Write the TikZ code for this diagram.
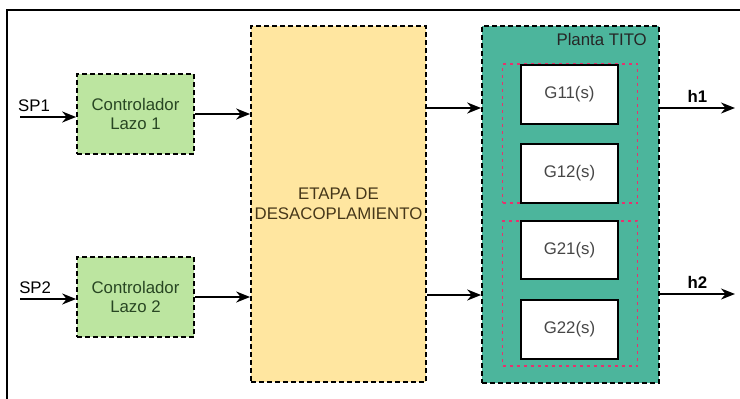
\documentclass[tikz,border=0pt]{standalone}
\usepackage{fontspec}
\setmainfont{Liberation Sans}
\usepackage{xcolor}
\usepackage{tikz}
\usetikzlibrary{arrows.meta, positioning}
\definecolor{ctrlgreen}{RGB}{188,229,160}
\definecolor{stageyellow}{RGB}{255,230,160}
\definecolor{plantteal}{RGB}{76,181,156}
\definecolor{groupred}{RGB}{230,50,110}
\definecolor{ctrltext}{RGB}{40,70,35}
\definecolor{stagetext}{RGB}{70,55,25}
\definecolor{gtext}{RGB}{70,70,70}
\tikzset{
    frame/.style={draw, line width=1.8pt},
    dashbox/.style={rectangle, draw, line width=1.7pt, dash pattern=on 5pt off 3pt, text centered, align=center},
    controller/.style={dashbox, minimum width=117pt, minimum height=80pt, fill=ctrlgreen, text=ctrltext},
    stagebox/.style={dashbox, minimum width=175pt, minimum height=356pt, fill=stageyellow, text=stagetext},
    plant/.style={dashbox, minimum width=177pt, minimum height=357pt, fill=plantteal},
    group/.style={rectangle, draw=groupred, line width=1.6pt, dash pattern=on 3pt off 4pt, minimum width=135pt},
    tf/.style={rectangle, draw, line width=1.6pt, fill=white, text=gtext, minimum width=97pt, minimum height=59pt},
    flow/.style={-{Stealth[length=14pt,width=11pt]}, line width=1.8pt}
}

\begin{document}
\begin{tikzpicture}[x=1pt, y=-1pt, font=\fontsize{16.8}{19.5}\selectfont]
    \useasboundingbox (0,0) rectangle (740,399);

    % Frame
    \draw[frame] (7,410) |- (750,10);

    % Controllers
    \node[controller] (ctrl1) at (135.5,114) {Controlador\\Lazo 1};
    \node[controller] (ctrl2) at (135.5,297) {Controlador\\Lazo 2};

    % Decoupling stage
    \node[stagebox] (etapa) at (338.5,204) {ETAPA DE\\DESACOPLAMIENTO};

    % TITO plant
    \node[plant] (planta) at (570.5,204.5) {};
    \node[anchor=north east, inner sep=0pt, text=black!85] (tito) at (647,33) {Planta TITO};

    % Groups and transfer functions
    \node[group, minimum height=139pt] (grp1) at (570,133.5) {};
    \node[group, minimum height=145pt] (grp2) at (570,293.5) {};
    \node[tf] (g11) at (569.5,94.5) {G11(s)};
    \node[tf] (g12) at (569.5,173.5) {G12(s)};
    \node[tf, minimum height=58pt] (g21) at (569.5,250) {G21(s)};
    \node[tf] (g22) at (569.5,329.5) {G22(s)};

    % Signal levels
    \coordinate (sp1) at (20,117);
    \coordinate (sp2) at (20,299);
    \coordinate (u1) at (0,108);
    \coordinate (u2) at (0,295);
    \coordinate (h1) at (735,108);
    \coordinate (h2) at (735,294);

    % Flows
    \draw[flow] (sp1) -- (sp1 -| ctrl1.west) node[pos=0.25, above=1pt] {SP1};
    \draw[flow] (sp2) -- (sp2 -| ctrl2.west) node[pos=0.27, above=1pt] {SP2};
    \draw[flow] (ctrl1.east) -- (ctrl1.east -| etapa.west);
    \draw[flow] (ctrl2.east) -- (ctrl2.east -| etapa.west);
    \draw[flow] (etapa.east |- u1) -- (planta.west |- u1);
    \draw[flow] (etapa.east |- u2) -- (planta.west |- u2);
    \draw[flow] (planta.east |- h1) -- (h1) node[midway, above=1pt] {\textbf{h1}};
    \draw[flow] (planta.east |- h2) -- (h2) node[midway, above=1pt] {\textbf{h2}};
\end{tikzpicture}
\end{document}
